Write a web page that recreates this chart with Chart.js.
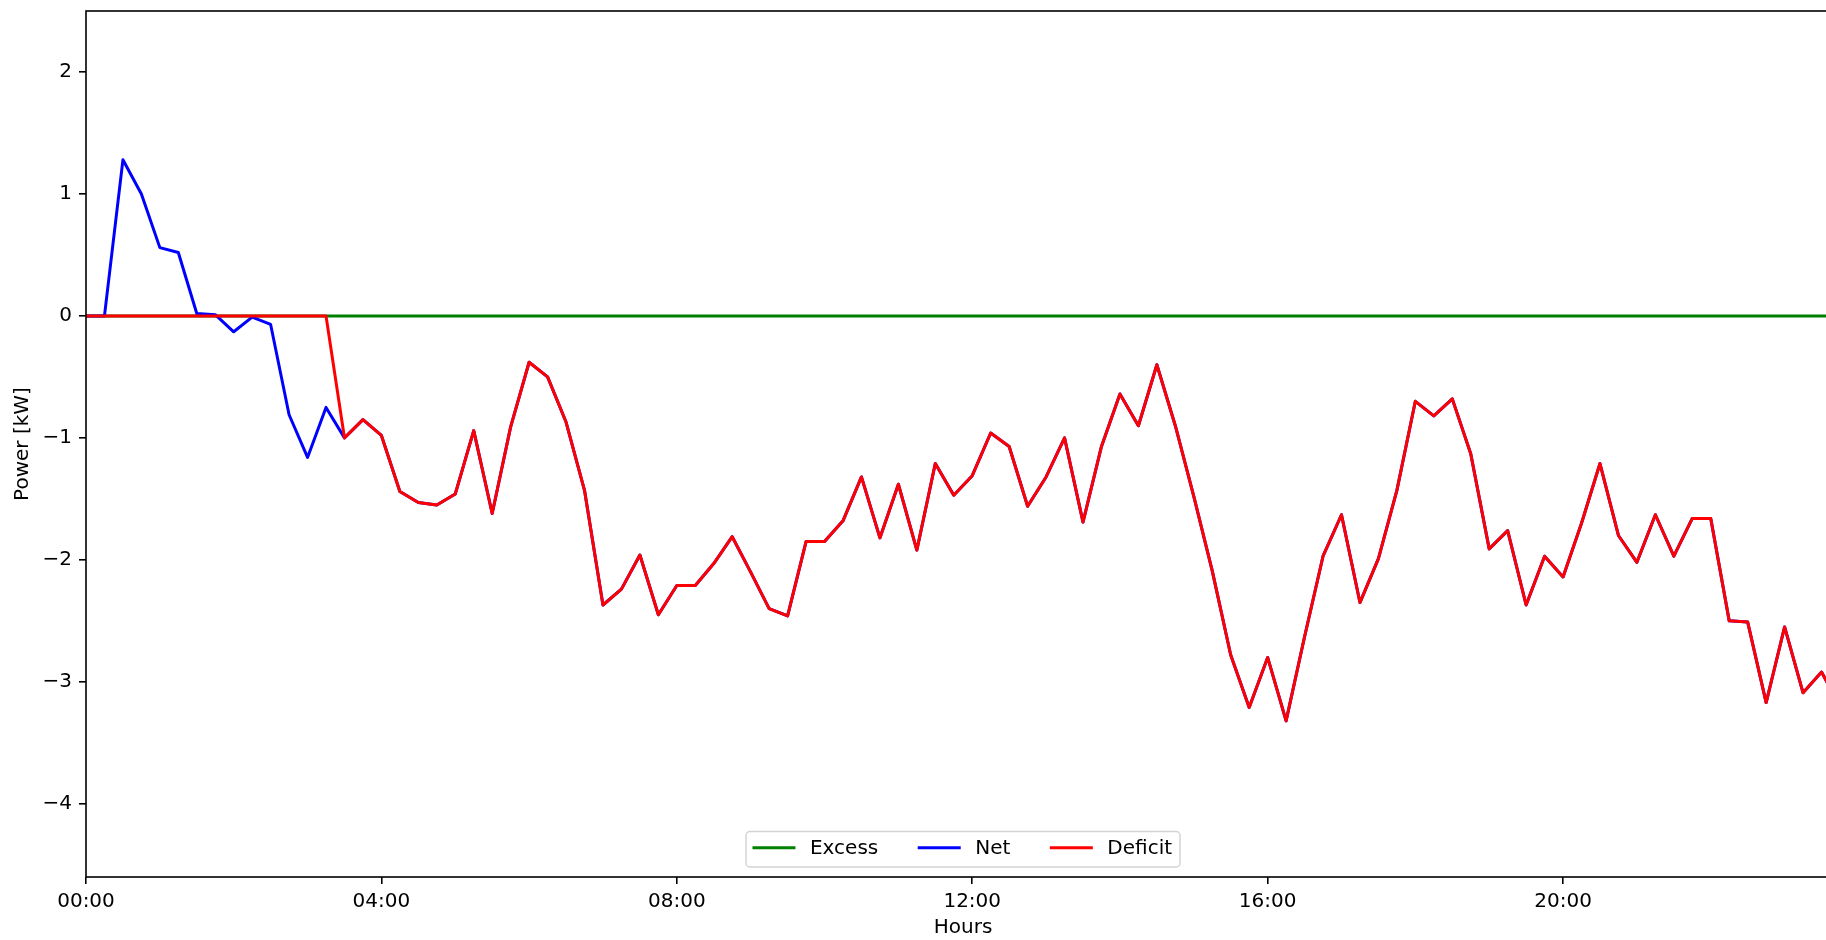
<!DOCTYPE html>
<html>
<head>
<meta charset="utf-8">
<title>Power balance</title>
<script src="https://cdn.jsdelivr.net/npm/chart.js@4.4.1/dist/chart.umd.min.js"></script>
<style>
    html, body { margin: 0; padding: 0; overflow: hidden; background: #ffffff; }
    #powerChart { position: absolute; left: 0; top: 0; }
</style>
</head>
<body>
<canvas id="powerChart" width="1850" height="940"></canvas>
<script>
// 15 minute steps over the day
const times = [];
for (let h = 0; h < 24; h++) {
    for (let m = 0; m < 60; m += 15) {
        times.push(String(h).padStart(2, '0') + ':' + String(m).padStart(2, '0'));
    }
}

const xTickLabels = ['00:00', '04:00', '08:00', '12:00', '16:00', '20:00'];
const yTickValues = [-4, -3, -2, -1, 0, 1, 2];

const excess = [
    0, 0, 0, 0, 0, 0, 0, 0, 0, 0, 0, 0, 0, 0, 0, 0,
    0, 0, 0, 0, 0, 0, 0, 0, 0, 0, 0, 0, 0, 0, 0, 0,
    0, 0, 0, 0, 0, 0, 0, 0, 0, 0, 0, 0, 0, 0, 0, 0,
    0, 0, 0, 0, 0, 0, 0, 0, 0, 0, 0, 0, 0, 0, 0, 0,
    0, 0, 0, 0, 0, 0, 0, 0, 0, 0, 0, 0, 0, 0, 0, 0,
    0, 0, 0, 0, 0, 0, 0, 0, 0, 0, 0, 0, 0, 0, 0, 0
];

const net = [
    0, 0, 1.28, 1.00, 0.56, 0.52, 0.02, 0.01, -0.13, -0.01, -0.07, -0.81, -1.16, -0.75, -1.00, -0.85,
    -0.98, -1.44, -1.53, -1.55, -1.46, -0.94, -1.62, -0.91, -0.38, -0.50, -0.87, -1.43, -2.37, -2.24, -1.96, -2.45,
    -2.21, -2.21, -2.03, -1.81, -2.10, -2.40, -2.46, -1.85, -1.85, -1.68, -1.32, -1.82, -1.38, -1.92, -1.21, -1.47,
    -1.31, -0.96, -1.07, -1.56, -1.32, -1.00, -1.69, -1.07, -0.64, -0.90, -0.40, -0.90, -1.48, -2.09, -2.78, -3.21,
    -2.80, -3.32, -2.63, -1.97, -1.63, -2.35, -1.99, -1.43, -0.70, -0.82, -0.68, -1.13, -1.91, -1.76, -2.37, -1.97,
    -2.14, -1.70, -1.21, -1.80, -2.02, -1.63, -1.97, -1.66, -1.66, -2.50, -2.51, -3.17, -2.55, -3.09, -2.92, -3.20
];

const deficit = [
    0, 0, 0, 0, 0, 0, 0, 0, 0, 0, 0, 0, 0, 0, -1.00, -0.85,
    -0.98, -1.44, -1.53, -1.55, -1.46, -0.94, -1.62, -0.91, -0.38, -0.50, -0.87, -1.43, -2.37, -2.24, -1.96, -2.45,
    -2.21, -2.21, -2.03, -1.81, -2.10, -2.40, -2.46, -1.85, -1.85, -1.68, -1.32, -1.82, -1.38, -1.92, -1.21, -1.47,
    -1.31, -0.96, -1.07, -1.56, -1.32, -1.00, -1.69, -1.07, -0.64, -0.90, -0.40, -0.90, -1.48, -2.09, -2.78, -3.21,
    -2.80, -3.32, -2.63, -1.97, -1.63, -2.35, -1.99, -1.43, -0.70, -0.82, -0.68, -1.13, -1.91, -1.76, -2.37, -1.97,
    -2.14, -1.70, -1.21, -1.80, -2.02, -1.63, -1.97, -1.66, -1.66, -2.50, -2.51, -3.17, -2.55, -3.09, -2.92, -3.20
];

const FONT = { family: "'DejaVu Sans', sans-serif", size: 20 };

// axes frame drawn on top of the lines, like matplotlib spines
const framePlugin = {
    id: 'frame',
    afterDatasetsDraw(chart) {
        const { ctx, chartArea } = chart;
        ctx.save();
        ctx.strokeStyle = '#000000';
        ctx.lineWidth = 1.6;
        ctx.strokeRect(chartArea.left, chartArea.top, chartArea.right - chartArea.left, chartArea.bottom - chartArea.top);
        ctx.restore();
    }
};

// boxed legend at lower center, three columns
const boxLegendPlugin = {
    id: 'boxLegend',
    afterDraw(chart) {
        const { ctx, chartArea } = chart;
        const items = chart.data.datasets.map(ds => ({ text: ds.label, color: ds.borderColor }));
        ctx.save();
        ctx.font = FONT.size + 'px ' + FONT.family;
        const handleLen = 40, handlePad = 16, colSpace = 41, pad = 8;
        let total = 0;
        items.forEach((it, i) => {
            it.w = ctx.measureText(it.text).width;
            total += handleLen + handlePad + it.w + (i > 0 ? colSpace : 0);
        });
        const boxW = total + pad * 2;
        const boxH = 35.5;
        const center = (chartArea.left + chartArea.right) / 2;
        const boxX = center - boxW / 2;
        const boxY = chartArea.bottom - 10 - boxH;

        ctx.beginPath();
        ctx.roundRect(boxX, boxY, boxW, boxH, 4);
        ctx.fillStyle = 'rgba(255,255,255,0.8)';
        ctx.fill();
        ctx.strokeStyle = '#d4d4d4';
        ctx.lineWidth = 1.5;
        ctx.stroke();

        let x = boxX + pad;
        const midY = boxY + boxH / 2;
        items.forEach(it => {
            ctx.beginPath();
            ctx.moveTo(x, midY - 1.5);
            ctx.lineTo(x + handleLen, midY - 1.5);
            ctx.strokeStyle = it.color;
            ctx.lineWidth = 3;
            ctx.lineCap = 'square';
            ctx.stroke();
            x += handleLen + handlePad;
            ctx.fillStyle = '#000000';
            ctx.textBaseline = 'middle';
            ctx.textAlign = 'left';
            ctx.fillText(it.text, x, midY);
            x += it.w + colSpace;
        });
        ctx.restore();
    }
};

const ctx = document.getElementById('powerChart').getContext('2d');
new Chart(ctx, {
    type: 'line',
    data: {
        labels: times,
        datasets: [
            { label: 'Excess', data: excess, borderColor: '#008000', order: 3 },
            { label: 'Net', data: net, borderColor: '#0000ff', order: 2 },
            { label: 'Deficit', data: deficit, borderColor: '#ff0000', order: 1 }
        ]
    },
    options: {
        responsive: false,
        maintainAspectRatio: false,
        devicePixelRatio: 1,
        animation: false,
        layout: { padding: { top: 11, right: 10, left: 0, bottom: 0 } },
        elements: {
            line: { borderWidth: 3, tension: 0, borderJoinStyle: 'round', fill: false },
            point: { radius: 0, hoverRadius: 0 }
        },
        plugins: {
            legend: { display: false },
            tooltip: { enabled: false }
        },
        scales: {
            x: {
                type: 'category',
                offset: false,
                afterFit: scale => { scale.height = 63; scale.paddingLeft = 0; scale.paddingRight = 0; },
                border: { display: false },
                grid: { drawOnChartArea: false, drawTicks: true, tickLength: 7, color: '#000000', lineWidth: 1.6 },
                ticks: {
                    autoSkip: false,
                    maxRotation: 0,
                    minRotation: 0,
                    padding: 6,
                    color: '#000000',
                    font: FONT,
                    callback: function (value) {
                        const lab = this.getLabelForValue(value);
                        return xTickLabels.includes(lab) ? lab : null;
                    }
                },
                title: { display: true, text: 'Hours', color: '#000000', font: FONT, padding: { top: 0, bottom: 0 } }
            },
            y: {
                min: -4.6,
                max: 2.5,
                afterFit: scale => { scale.width = 86; scale.paddingTop = 0; scale.paddingBottom = 0; },
                afterBuildTicks: scale => { scale.ticks = yTickValues.map(v => ({ value: v })); },
                border: { display: false },
                grid: { drawOnChartArea: false, drawTicks: true, tickLength: 7, color: '#000000', lineWidth: 1.6 },
                ticks: {
                    padding: 7,
                    color: '#000000',
                    font: FONT,
                    callback: v => (v < 0 ? '\u2212' + Math.abs(v) : String(v))
                },
                title: { display: true, text: 'Power [kW]', color: '#000000', font: FONT, padding: { top: 11, bottom: 0 } }
            }
        }
    },
    plugins: [framePlugin, boxLegendPlugin]
});
</script>
</body>
</html>
